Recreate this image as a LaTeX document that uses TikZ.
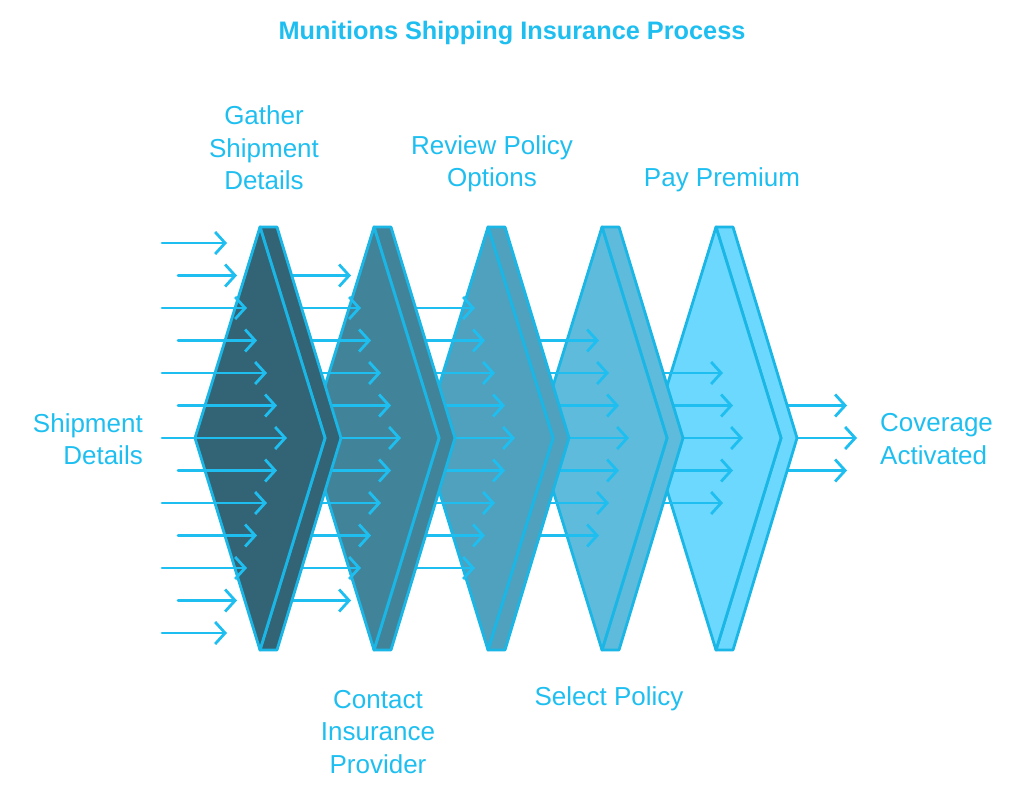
\documentclass[tikz,border=0pt]{standalone}
\usepackage{fontspec}
\setmainfont{Liberation Sans}
\usepackage{tikz}
\usetikzlibrary{arrows.meta,positioning}
\definecolor{edgeblue}{HTML}{1AB6E6}
\definecolor{flowblue}{HTML}{1EBFF0}
\definecolor{stageA}{HTML}{326475}
\definecolor{stageB}{HTML}{41849A}
\definecolor{stageC}{HTML}{4FA1BE}
\definecolor{stageD}{HTML}{5FBBDC}
\definecolor{stageE}{HTML}{6DD8FE}
\tikzset{>={Straight Barb[length=10pt,width=22pt]}}
\tikzset{
    stage/.style={draw=edgeblue,line width=2.8pt,line join=round},
    flow/.style={draw=flowblue,line width=2.8pt,line cap=round,->},
    steplabel/.style={text=flowblue,inner sep=0pt,align=center,font=\fontsize{26}{32.5}\selectfont},
    title/.style={text=flowblue,inner sep=0pt,font=\bfseries\fontsize{25.3}{30}\selectfont},
}
\begin{document}
\begin{tikzpicture}[x=1pt,y=-1pt]
	\useasboundingbox (0,0) rectangle (1024,796);

	% outgoing arrows
	\foreach \k in {-1,0,1} {
		\pgfmathsetmacro{\y}{438+32.5*\k}
		\pgfmathsetmacro{\xe}{857-10*abs(\k)}
		\coordinate (outs\k) at (716,\y);
		\coordinate (oute\k) at (\xe,\y);
		\draw[flow] (outs\k) -- (oute\k);
	}

	% stages, back to front, each with its incoming arrows
	\foreach \i/\col in {5/stageE,4/stageD,3/stageC,2/stageB,1/stageA} {
		\pgfmathsetmacro{\T}{260+114*(\i-1)}
		\coordinate (top\i) at (\T,227);
		\coordinate (bot\i) at (\T,650);
		\coordinate (tip\i) at (\T+65,438);
		\coordinate (lft\i) at (\T-65,438);
		\coordinate (btop\i) at (\T+17,227);
		\coordinate (bbot\i) at (\T+17,650);
		\coordinate (btip\i) at (\T+81,438);
		\filldraw[stage,fill=\col] (top\i) -- (btop\i) -- (btip\i) -- (bbot\i) -- (bot\i) -- (tip\i) -- cycle;
		\filldraw[stage,fill=\col] (top\i) -- (tip\i) -- (bot\i) -- (lft\i) -- cycle;

		\pgfmathtruncatemacro{\n}{7-\i}
		\foreach \k in {-\n,...,\n} {
			\pgfmathsetmacro{\y}{438+32.5*\k}
			\pgfmathsetmacro{\xe}{287+114*(\i-1)-10*abs(\k)}
			\ifnum\i=1
				\pgfmathsetmacro{\xs}{isodd(\k) ? 178 : 162}
			\else
				\pgfmathsetmacro{\xs}{\T-114}
			\fi
			\coordinate (ins\i\k) at (\xs,\y);
			\coordinate (ine\i\k) at (\xe,\y);
			\draw[flow] (ins\i\k) -- (ine\i\k);
		}
	}

	\node[title] (head) at (512,33) {Munitions Shipping Insurance Process};

	\node[steplabel] (gather) at (264,148) {Gather\\Shipment\\Details};
	\node[steplabel] (review) at (492,164) {Review Policy\\Options};
	\node[steplabel] (pay) at (722,180) {Pay Premium};
	\node[steplabel] (contact) at (378,732) {Contact\\Insurance\\Provider};
	\node[steplabel] (select) at (609,699) {Select Policy};
	\node[steplabel,anchor=east,align=right] (input) at (143,439) {Shipment\\Details};
	\node[steplabel,anchor=west,align=left] (output) at (880,439) {Coverage\\Activated};
\end{tikzpicture}
\end{document}
